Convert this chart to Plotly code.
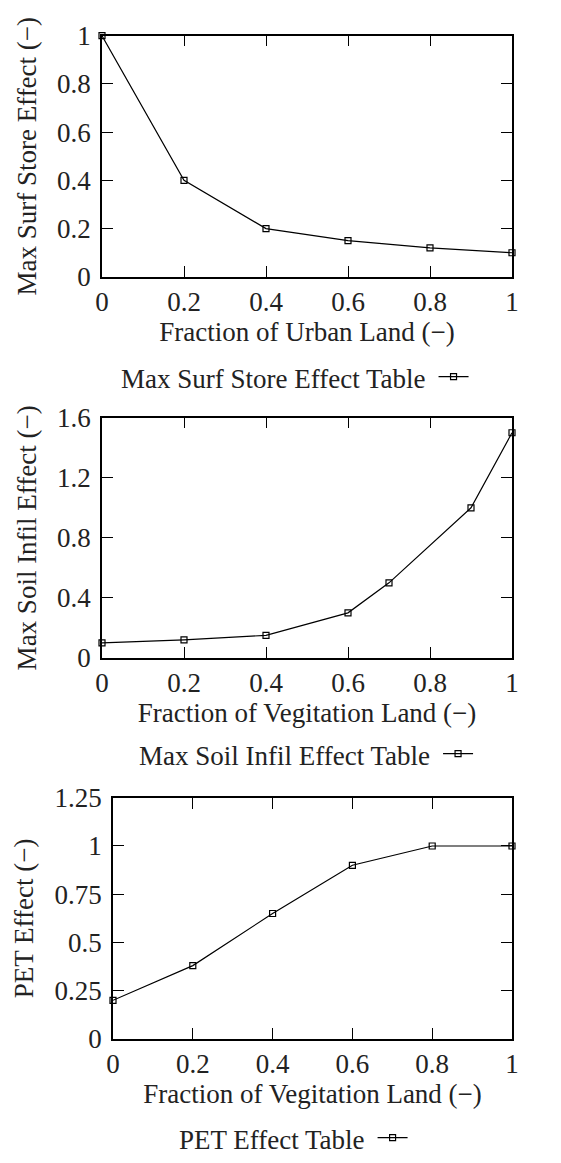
import plotly.graph_objects as go

# ---- data ----
urban_x = [0, 0.2, 0.4, 0.6, 0.8, 1.0]
surf_store_y = [1.0, 0.4, 0.2, 0.15, 0.12, 0.1]

veg_x_soil = [0, 0.2, 0.4, 0.6, 0.7, 0.9, 1.0]
soil_infil_y = [0.1, 0.12, 0.15, 0.3, 0.5, 1.0, 1.5]

veg_x_pet = [0, 0.2, 0.4, 0.6, 0.8, 1.0]
pet_y = [0.2, 0.38, 0.65, 0.9, 1.0, 1.0]

x_ticks = [0, 0.2, 0.4, 0.6, 0.8, 1]
x_ticklabels = ["0", "0.2", "0.4", "0.6", "0.8", "1"]
y1_ticks = [0, 0.2, 0.4, 0.6, 0.8, 1]
y1_ticklabels = ["0", "0.2", "0.4", "0.6", "0.8", "1"]
y2_ticks = [0, 0.4, 0.8, 1.2, 1.6]
y2_ticklabels = ["0", "0.4", "0.8", "1.2", "1.6"]
y3_ticks = [0, 0.25, 0.5, 0.75, 1, 1.25]
y3_ticklabels = ["0", "0.25", "0.5", "0.75", "1", "1.25"]

FONT = "Liberation Serif"
FS = 27
W, H = 561, 1163

def px_x(p):
    return p / W

def px_y(p):
    return 1 - p / H

fig = go.Figure()

marker = dict(symbol="square-open", size=6, color="black", line=dict(width=1.2, color="black"))
line = dict(color="black", width=1.2)

fig.add_trace(go.Scatter(x=urban_x, y=surf_store_y, mode="lines+markers", name="",
                         marker=marker, line=line, xaxis="x", yaxis="y", legend="legend",
                         cliponaxis=False))
fig.add_trace(go.Scatter(x=veg_x_soil, y=soil_infil_y, mode="lines+markers", name="",
                         marker=marker, line=line, xaxis="x2", yaxis="y2", legend="legend2",
                         cliponaxis=False))
fig.add_trace(go.Scatter(x=veg_x_pet, y=pet_y, mode="lines+markers", name="",
                         marker=marker, line=line, xaxis="x3", yaxis="y3", legend="legend3",
                         cliponaxis=False))

TXT = "#222"

axis_common = dict(showline=True, linecolor="black", linewidth=1.5, mirror="ticks",
                   ticks="inside", ticklen=11, tickwidth=1.3, tickcolor="black",
                   showgrid=False, zeroline=False, automargin=False,
                   tickfont=dict(family=FONT, size=FS, color=TXT))

def xa(domain, anchor, title):
    d = dict(axis_common)
    d.update(domain=domain, anchor=anchor, range=[0, 1], tickvals=x_ticks,
             ticktext=x_ticklabels, ticklabelstandoff=0,
             title=dict(text=title, font=dict(family=FONT, size=FS, color=TXT), standoff=0))
    return d

def ya(domain, anchor, rng, tv, tt, title):
    d = dict(axis_common)
    d.update(domain=domain, anchor=anchor, range=rng, tickvals=tv, ticktext=tt,
             ticklabelstandoff=4,
             title=dict(text=title, font=dict(family=FONT, size=FS, color=TXT), standoff=13))
    return d

xd12 = [px_x(102), px_x(512)]
xd3 = [px_x(113), px_x(512)]

fig.update_layout(
    width=W, height=H,
    margin=dict(l=0, r=0, t=0, b=0),
    paper_bgcolor="white", plot_bgcolor="white",
    xaxis=xa(xd12, "y", "Fraction of Urban Land (−)"),
    yaxis=ya([px_y(279), px_y(36)], "x", [0, 1], y1_ticks, y1_ticklabels, "Max Surf Store Effect (−)"),
    xaxis2=xa(xd12, "y2", "Fraction of Vegitation Land (−)"),
    yaxis2=ya([px_y(663), px_y(421)], "x2", [0, 1.6], y2_ticks, y2_ticklabels, "Max Soil Infil Effect (−)"),
    xaxis3=xa(xd3, "y3", "Fraction of Vegitation Land (−)"),
    yaxis3=ya([px_y(1047), px_y(804)], "x3", [0, 1.25], y3_ticks, y3_ticklabels, "PET Effect (−)"),
    showlegend=True,
)

def leg(xpx, ypx, title):
    return dict(x=px_x(xpx), y=px_y(ypx), xanchor="left", yanchor="middle",
                bgcolor="rgba(0,0,0,0)", borderwidth=0,
                title=dict(text=title, side="left", font=dict(family=FONT, size=FS, color=TXT)),
                font=dict(family=FONT, size=FS, color=TXT), itemwidth=30)

fig.update_layout(
    legend=leg(119, 380, "Max Surf Store Effect Table"),
    legend2=leg(137, 760, "Max Soil Infil Effect Table"),
    legend3=leg(177, 1147, "PET Effect Table"),
)

fig.write_html("out.html",
               config={"displayModeBar": False},
               post_script="document.body.style.margin='0';document.body.style.overflow='hidden';")
